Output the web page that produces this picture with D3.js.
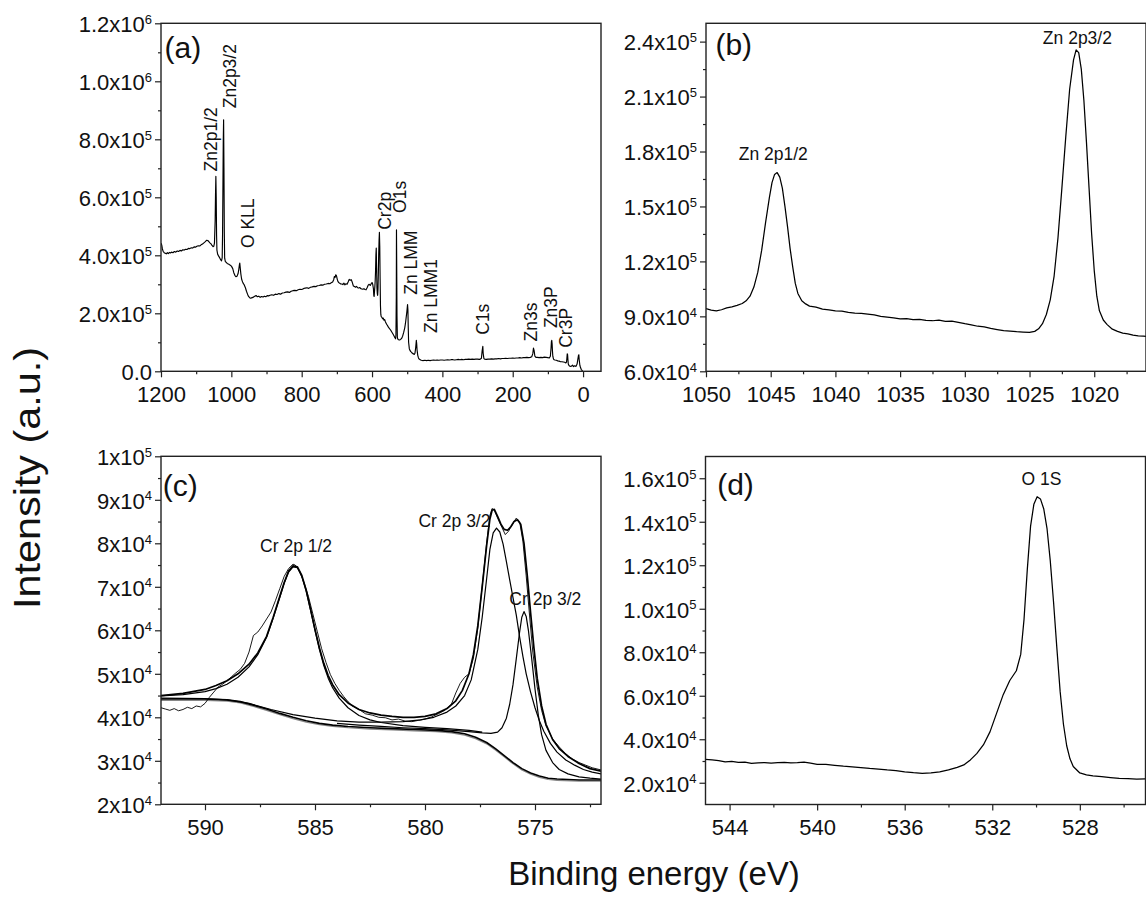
<!DOCTYPE html>
<html>
<head>
<meta charset="utf-8">
<script src="https://cdn.jsdelivr.net/npm/d3@7"></script>
<style>
  body { margin: 0; background: #fff; }
  svg { display: block; font-family: "Liberation Sans", Arial, sans-serif; }
</style>
</head>
<body>
<svg id="chart" width="1146" height="897"></svg>
<script>
// all intensities are in thousands of counts, energies in eV

// (a) survey spectrum
const survey = [[1200,442],[1198,436],[1196,422],[1194,414],[1191,409],[1188,407],[1185,405],[1182,409],[1179,406],[1176,410],[1173,408],[1170,411],[1166,409],[1162,413],[1158,411],[1154,415],[1150,413],[1146,417],[1142,415],[1138,419],[1134,418],[1130,421],[1126,420],[1122,424],[1118,423],[1114,426],[1110,425],[1106,429],[1102,428],[1098,431],[1094,433],[1090,432],[1086,436],[1082,439],[1078,443],[1074,447],[1070,452],[1067,451],[1064,447],[1061,443],[1058,440],[1055,434],[1052,430],[1050,431],[1048,442],[1046,520],[1045,610],[1044,672],[1043,600],[1042,470],[1041,418],[1039,404],[1036,397],[1033,391],[1030,384],[1028,381],[1026,392],[1025,470],[1024,620],[1023,790],[1022,867],[1021,700],[1020,480],[1019,390],[1017,378],[1014,375],[1011,371],[1008,370],[1005,367],[1002,365],[999,361],[996,354],[993,340],[990,331],[987,326],[984,328],[981,336],[979,350],[977,368],[976,373],[975,360],[973,336],[971,319],[969,311],[967,305],[965,301],[963,297],[960,288],[957,276],[954,266],[951,258],[948,254],[945,252],[941,254],[938,255],[935,258],[932,260],[929,261],[926,257],[922,259],[918,255],[914,258],[910,256],[906,259],[902,257],[898,261],[894,260],[890,262],[885,264],[880,262],[875,266],[870,265],[865,268],[860,266],[855,270],[850,271],[845,273],[840,274],[835,272],[830,276],[825,278],[820,279],[815,278],[810,281],[805,283],[800,282],[795,285],[790,287],[785,288],[780,286],[775,290],[770,291],[765,293],[760,292],[755,295],[750,296],[745,298],[740,297],[735,300],[730,301],[725,303],[720,302],[716,305],[712,308],[709,316],[707,327],[705,324],[703,333],[701,329],[699,318],[697,310],[695,306],[692,304],[689,301],[686,301],[683,299],[680,304],[677,298],[674,302],[671,300],[668,308],[665,317],[662,314],[659,316],[656,306],[653,294],[650,292],[647,290],[644,293],[641,288],[638,287],[635,289],[632,285],[629,284],[626,283],[623,285],[620,282],[617,281],[614,288],[611,297],[608,300],[605,296],[602,303],[600,306],[598,300],[596,284],[595,262],[594,258],[593,275],[592,292],[591,312],[590,345],[589,400],[588,425],[587,355],[586,288],[585,268],[584,262],[583,285],[582,340],[581,405],[580,452],[579,479],[578,430],[577,320],[576,226],[575,196],[574,189],[572,186],[570,181],[568,183],[566,176],[564,178],[562,171],[560,166],[558,161],[556,158],[554,153],[552,150],[549,145],[546,140],[543,134],[540,128],[537,121],[535,116],[533,112],[532,125],[531,260],[530.5,488],[530,400],[529,190],[528,118],[527,112],[525,109],[522,108],[519,110],[516,113],[513,121],[510,134],[507,150],[505,165],[503,185],[501,205],[499,230],[498,212],[497,150],[496,100],[494,78],[492,72],[490,68],[488,66],[486,63],[484,61],[482,60],[480,58],[478,62],[476,80],[474,107],[473,95],[472,74],[470,55],[468,46],[466,42],[463,40],[460,38],[455,37],[450,38],[445,37],[440,38],[435,37],[430,38],[425,39],[420,38],[415,39],[410,38],[405,39],[400,39],[395,38],[390,39],[385,40],[380,39],[375,40],[370,40],[365,39],[360,40],[355,41],[350,40],[345,41],[340,40],[335,41],[330,41],[325,42],[320,41],[315,42],[310,41],[305,42],[300,42],[295,41],[292,42],[289,45],[287,70],[285,86],[284,62],[282,44],[280,42],[275,41],[270,42],[265,42],[260,43],[255,42],[250,43],[245,43],[240,44],[235,43],[230,44],[225,44],[220,45],[215,44],[210,45],[205,45],[200,46],[195,45],[190,46],[185,46],[180,47],[175,46],[170,47],[165,47],[160,48],[155,47],[150,48],[146,50],[143,60],[141,80],[139,70],[137,52],[134,48],[130,48],[125,47],[120,48],[115,47],[110,49],[105,48],[100,47],[96,46],[93,52],[91,80],[90,102],[89,107],[88,95],[87,70],[86,52],[84,42],[82,40],[80,39],[76,38],[72,36],[68,35],[64,33],[60,33],[56,32],[52,31],[49,29],[47,32],[46,45],[45,60],[44,58],[43,40],[42,25],[40,20],[38,18],[34,17],[30,21],[27,16],[24,19],[20,17],[17,25],[15,40],[13,55],[12,57],[11,40],[9,20],[7,12],[5,6],[3,3],[1,1]];

// (b) Zn 2p region
const zn2p = [[1050,94.2],[1049.6,93.4],[1049.2,93.0],[1048.8,93.6],[1048.4,94.6],[1048,95.2],[1047.6,96.0],[1047.2,97.0],[1046.9,98.5],[1046.6,101],[1046.3,106],[1046,114],[1045.7,126],[1045.4,141],[1045.1,155],[1044.9,163],[1044.7,167.5],[1044.5,168.5],[1044.3,166],[1044.1,160],[1043.9,150],[1043.7,139],[1043.5,127],[1043.3,117],[1043.1,108],[1042.9,102.5],[1042.6,98.5],[1042.3,96.8],[1042,95.6],[1041.5,95.0],[1041,94.0],[1040.5,93.6],[1040,93.0],[1039.5,92.8],[1039,92.2],[1038.5,91.8],[1038,91.6],[1037.5,91.2],[1037,90.8],[1036.5,90.0],[1036,89.6],[1035.5,89.2],[1035,88.6],[1034.5,88.8],[1034,88.2],[1033.5,88.4],[1033,87.8],[1032.5,87.6],[1032,87.9],[1031.5,87.3],[1031,87.4],[1030.5,86.7],[1030,86.0],[1029.5,85.4],[1029,84.6],[1028.5,84.2],[1028,83.4],[1027.5,82.8],[1027,82.2],[1026.5,82.0],[1026,81.6],[1025.5,81.4],[1025,81.2],[1024.6,81.8],[1024.3,83.2],[1024,86.0],[1023.7,91],[1023.4,99],[1023.1,112],[1022.8,133],[1022.5,160],[1022.2,188],[1021.9,214],[1021.6,230],[1021.4,235.5],[1021.2,234],[1021,225],[1020.8,208],[1020.6,185],[1020.4,160],[1020.2,135],[1020,115],[1019.8,101],[1019.6,93],[1019.3,88],[1019,85.5],[1018.6,83],[1018.2,81.8],[1017.8,80.8],[1017.4,80.4],[1017,79.8],[1016.6,79.4],[1016.2,79.2],[1016,79.0]];

// (c) Cr 2p region: measured data, fitted envelope, components, background
const crRaw = [[592,42.2],[591.8,41.9],[591.6,41.6],[591.4,42.0],[591.2,41.5],[591,41.8],[590.8,42.3],[590.6,42.0],[590.4,42.6],[590.2,42.4],[590,43.2],[589.8,44.6],[589.6,45.8],[589.4,47.0],[589.2,47.6],[589,48.4],[588.8,49.3],[588.6,50.2],[588.4,51.0],[588.2,52.4],[588,55.0],[587.8,58.8],[587.6,59.6],[587.4,61.0],[587.2,62.6],[587,64.2],[586.8,66.8],[586.6,69.6],[586.4,72.4],[586.2,74.2],[586,75.2],[585.9,75.0],[585.7,73.6],[585.5,71.0],[585.3,67.8],[585.1,63.8],[584.9,59.8],[584.7,55.8],[584.5,52.6],[584.3,49.8],[584.1,47.8],[583.9,46.2],[583.7,44.8],[583.5,43.6],[583.3,42.6],[583,41.8],[582.7,40.8],[582.4,40.5],[582.1,40.0],[581.8,39.9],[581.5,39.4],[581.2,39.6],[580.9,39.1],[580.6,39.0],[580.3,39.3],[580,39.6],[579.7,40.1],[579.4,40.8],[579.1,41.6],[578.8,43.0],[578.6,45.6],[578.4,47.8],[578.2,49.2],[578,50.0],[577.8,53.6],[577.6,60.5],[577.4,70.2],[577.2,80.0],[577.05,86.4],[576.95,88.0],[576.85,87.6],[576.7,85.8],[576.5,83.6],[576.35,82.0],[576.2,82.8],[576,84.6],[575.85,85.8],[575.7,85.0],[575.55,80.5],[575.4,72.5],[575.25,63.5],[575.1,55.0],[574.9,47.0],[574.7,41.6],[574.5,38.0],[574.2,35.0],[573.9,33.2],[573.6,31.6],[573.3,30.4],[573,29.6],[572.7,29.0],[572.4,28.4],[572,27.9]];
const crEnvelope = [[592,45.0],[591,45.5],[590,46.4],[589.5,47.3],[589,48.4],[588.5,50.0],[588,52.2],[587.6,54.8],[587.2,58.6],[586.9,63.0],[586.6,67.8],[586.4,71.0],[586.2,73.6],[586,74.8],[585.8,74.6],[585.6,72.6],[585.4,69.2],[585.2,64.8],[585,60.2],[584.8,56.0],[584.6,52.4],[584.4,49.6],[584.2,47.5],[583.9,45.2],[583.5,43.3],[583,41.8],[582.5,41.0],[582,40.5],[581.5,40.2],[581,40.0],[580.5,40.0],[580,40.2],[579.5,40.8],[579,42.0],[578.6,43.8],[578.3,46.2],[578,50.0],[577.8,54.4],[577.6,61.0],[577.4,70.0],[577.2,79.4],[577.05,85.6],[576.95,87.6],[576.85,87.8],[576.7,86.2],[576.55,84.4],[576.4,83.2],[576.25,83.0],[576.1,83.8],[575.95,85.0],[575.8,85.4],[575.65,84.4],[575.5,80.0],[575.35,72.5],[575.2,64.0],[575.05,56.0],[574.9,49.0],[574.7,42.6],[574.5,38.4],[574.2,34.9],[573.9,32.8],[573.5,31.0],[573,29.4],[572.5,28.2],[572,27.6]];
const crPeak1 = [[592,44.9],[591,45.2],[590,45.9],[589.5,46.6],[589,47.6],[588.5,49.2],[588,51.6],[587.6,54.4],[587.2,58.4],[586.9,62.8],[586.6,67.6],[586.4,70.8],[586.2,73.4],[586,74.6],[585.8,74.4],[585.6,72.4],[585.4,69.0],[585.2,64.6],[585,60.0],[584.8,55.6],[584.6,51.9],[584.4,49.0],[584.2,46.8],[583.9,44.4],[583.5,42.2],[583,40.4],[582.5,39.4],[582,38.8],[581,38.1],[580,37.7],[579,37.4],[578,37.0],[577.4,36.6]];
const crPeak2 = [[592,44.4],[590,44.3],[589,44.0],[588,43.2],[587,41.8],[586,40.6],[585,39.8],[584,39.2],[583,38.9],[582,38.9],[581,39.0],[580.2,39.4],[579.6,40.0],[579,41.2],[578.6,42.6],[578.2,45.0],[577.9,48.6],[577.6,55.6],[577.4,63.0],[577.2,71.8],[577.05,78.6],[576.9,82.4],[576.75,83.5],[576.6,82.6],[576.45,79.8],[576.3,75.8],[576.15,71.6],[576,67.5],[575.85,63.5],[575.7,58.5],[575.55,54.0],[575.4,50.0],[575.2,45.8],[575,42.2],[574.8,39.2],[574.6,36.8],[574.3,34.0],[574,32.0],[573.6,30.2],[573.2,29.0],[572.8,28.0],[572.4,27.4],[572,27.0]];
const crPeak3 = [[584,38.6],[583,38.2],[582,37.9],[581,37.6],[580,37.4],[579,37.1],[578,36.7],[577.4,36.4],[577,36.3],[576.7,36.6],[576.5,37.6],[576.3,39.8],[576.15,43.0],[576,47.5],[575.85,53.5],[575.7,59.6],[575.6,63.0],[575.5,64.3],[575.4,63.2],[575.3,60.0],[575.15,53.5],[575,46.5],[574.85,40.5],[574.7,36.0],[574.5,32.4],[574.2,29.6],[573.9,28.0],[573.5,27.0],[573,26.3],[572.5,26.0],[572,25.8]];
const crBackground = [[592,44.2],[590,44.2],[589,44.0],[588.4,43.6],[587.8,42.8],[587.2,41.9],[586.6,40.9],[586,40.0],[585.4,39.2],[584.8,38.6],[584.2,38.2],[583.5,37.9],[582.5,37.6],[581.5,37.4],[580.5,37.2],[579.5,37.0],[578.8,36.7],[578.2,36.2],[577.7,35.4],[577.2,34.2],[576.8,32.8],[576.4,31.2],[576,29.6],[575.6,28.2],[575.2,27.2],[574.8,26.5],[574.4,26.0],[574,25.8],[573,25.6],[572,25.6]];
const crBackground2 = [[592,43.9],[590,43.9],[589,43.7],[588.4,43.3],[587.8,42.5],[587.2,41.6],[586.6,40.6],[586,39.7],[585.4,38.9],[584.8,38.3],[584.2,37.9],[583.5,37.6],[582.5,37.3],[581.5,37.1],[580.5,36.9],[579.5,36.7],[578.8,36.4],[578.2,35.9],[577.7,35.1],[577.2,33.9],[576.8,32.5],[576.4,30.9],[576,29.3],[575.6,27.9],[575.2,26.9],[574.8,26.2],[574.4,25.7],[574,25.5],[573,25.3],[572,25.3]];

// (d) O 1s region
const o1s = [[545.1,30.7],[544.8,30.5],[544.5,30.2],[544.2,29.6],[543.9,29.8],[543.6,29.4],[543.3,29.5],[543,28.9],[542.7,29.1],[542.4,29.3],[542.1,29.0],[541.8,29.2],[541.5,29.4],[541.2,29.1],[540.9,29.2],[540.6,29.5],[540.3,29.0],[540,28.5],[539.6,28.4],[539.2,28.0],[538.8,27.6],[538.4,27.3],[538,27.0],[537.6,26.6],[537.2,26.3],[536.8,25.9],[536.4,25.6],[536,25.0],[535.6,24.6],[535.2,24.3],[534.8,24.5],[534.4,25.0],[534,25.9],[533.6,27.1],[533.3,28.2],[533,30.5],[532.7,33.5],[532.4,37.5],[532.1,43.5],[531.8,52.0],[531.5,60.5],[531.2,67.0],[530.9,71.5],[530.7,79.0],[530.55,95],[530.4,118],[530.25,138],[530.1,148],[529.95,151.5],[529.8,150.5],[529.65,146],[529.5,137],[529.35,122],[529.2,103],[529.05,82],[528.9,62],[528.75,47],[528.6,37],[528.45,31],[528.3,27.5],[528,24.5],[527.7,23.6],[527.4,23.2],[527,22.8],[526.6,22.4],[526.2,22.0],[525.8,21.9],[525.4,21.7],[525,21.8]];

// axis ticks and labels
const aXTicks = [1200, 1000, 800, 600, 400, 200, 0];
const aXMinor = [1100, 900, 700, 500, 300, 100];
const aYTicks = [0, 2e5, 4e5, 6e5, 8e5, 1e6, 1.2e6];
const aYLabels = ["0.0", "2.0x10^5", "4.0x10^5", "6.0x10^5", "8.0x10^5", "1.0x10^6", "1.2x10^6"];
const aYMinor = [1e5, 3e5, 5e5, 7e5, 9e5, 1.1e6];

const bXTicks = [1050, 1045, 1040, 1035, 1030, 1025, 1020];
const bXMinor = [1047.5, 1042.5, 1037.5, 1032.5, 1027.5, 1022.5, 1017.5];
const bYTicks = [6e4, 9e4, 1.2e5, 1.5e5, 1.8e5, 2.1e5, 2.4e5];
const bYLabels = ["6.0x10^4", "9.0x10^4", "1.2x10^5", "1.5x10^5", "1.8x10^5", "2.1x10^5", "2.4x10^5"];
const bYMinor = [7.5e4, 1.05e5, 1.35e5, 1.65e5, 1.95e5, 2.25e5];

const cXTicks = [590, 585, 580, 575];
const cXMinor = [587.5, 582.5, 577.5, 572.5];
const cYTicks = [2e4, 3e4, 4e4, 5e4, 6e4, 7e4, 8e4, 9e4, 1e5];
const cYLabels = ["2x10^4", "3x10^4", "4x10^4", "5x10^4", "6x10^4", "7x10^4", "8x10^4", "9x10^4", "1x10^5"];
const cYMinor = [2.5e4, 3.5e4, 4.5e4, 5.5e4, 6.5e4, 7.5e4, 8.5e4, 9.5e4];

const dXTicks = [544, 540, 536, 532, 528];
const dXMinor = [542, 538, 534, 530, 526];
const dYTicks = [2e4, 4e4, 6e4, 8e4, 1e5, 1.2e5, 1.4e5, 1.6e5];
const dYLabels = ["2.0x10^4", "4.0x10^4", "6.0x10^4", "8.0x10^4", "1.0x10^5", "1.2x10^5", "1.4x10^5", "1.6x10^5"];
const dYMinor = [3e4, 5e4, 7e4, 9e4, 1.1e5, 1.3e5, 1.5e5];

// peak annotations: [text, energy, intensity in thousands]
const aNotes = [["Zn2p1/2", 1059, 689], ["Zn2p3/2", 1005, 907], ["O KLL", 952, 425], ["Cr2p", 563, 488], ["O1s", 521, 546], ["Zn LMM", 490, 264], ["Zn LMM1", 434, 132], ["C1s", 285, 126], ["Zn3s", 148, 103], ["Zn3P", 91, 149], ["Cr3P", 48, 81]];
const bNotes = [["Zn 2p1/2", 1044.8, 175.5], ["Zn 2p3/2", 1021.3, 238.6]];
const cNotes = [["Cr 2p 1/2", 585.86, 78.1], ["Cr 2p 3/2", 578.66, 83.8], ["Cr 2p 3/2", 574.53, 65.8]];
const dNotes = [["O 1S", 529.75, 157]];

const W = 440, H = 348;
const svg = d3.select("#chart");
const font = "'Liberation Sans', Arial, sans-serif";

const panels = [
  { key: "a", left: 161, top: 23.3, xDom: [1200, -51], yDom: [0, 1.2e6],
    xT: aXTicks, xM: aXMinor, yT: aYTicks, yL: aYLabels, yM: aYMinor,
    letter: "(a)", lx: 3.6, ly: 35,
    lines: [{ d: survey, w: 1.15 }], notes: aNotes, rotated: true },
  { key: "b", left: 706, top: 23.3, xDom: [1050, 1016], yDom: [6e4, 2.5e5],
    xT: bXTicks, xM: bXMinor, yT: bYTicks, yL: bYLabels, yM: bYMinor,
    letter: "(b)", lx: 9.4, ly: 32,
    lines: [{ d: zn2p, w: 1.25 }], notes: bNotes },
  { key: "c", left: 161, top: 456.3, xDom: [592, 572], yDom: [2e4, 1e5],
    xT: cXTicks, xM: cXMinor, yT: cYTicks, yL: cYLabels, yM: cYMinor,
    letter: "(c)", lx: 1.8, ly: 40,
    lines: [
      { d: crBackground2, w: 1.2, c: "#888" },
      { d: crBackground, w: 1.6 },
      { d: crPeak3, w: 1.2 },
      { d: crPeak2, w: 1.2 },
      { d: crPeak1, w: 1.2 },
      { d: crRaw, w: 0.9 },
      { d: crEnvelope, w: 1.7 }
    ], notes: cNotes },
  { key: "d", left: 705.5, top: 456.5, xDom: [545.1, 525], yDom: [1e4, 1.7e5],
    xT: dXTicks, xM: dXMinor, yT: dYTicks, yL: dYLabels, yM: dYMinor,
    letter: "(d)", lx: 11.7, ly: 38.5,
    lines: [{ d: o1s, w: 1.25 }], notes: dNotes }
];

const defs = svg.append("defs");
defs.append("clipPath").attr("id", "plotclip")
  .append("rect").attr("width", W).attr("height", H);

panels.forEach(p => {
  const g = svg.append("g").attr("transform", `translate(${p.left},${p.top})`);
  const x = d3.scaleLinear().domain(p.xDom).range([0, W]);
  const y = d3.scaleLinear().domain(p.yDom).range([H, 0]);

  // minor ticks
  g.append("g").attr("transform", `translate(0,${H})`)
    .call(d3.axisBottom(x).tickValues(p.xM).tickSize(3).tickFormat(""))
    .call(a => a.select(".domain").remove());
  g.append("g")
    .call(d3.axisLeft(y).tickValues(p.yM).tickSize(3).tickFormat(""))
    .call(a => a.select(".domain").remove());

  // major ticks with labels
  const xa = g.append("g").attr("transform", `translate(0,${H})`)
    .call(d3.axisBottom(x).tickValues(p.xT).tickSize(6).tickPadding(9).tickFormat(d3.format("d")));
  xa.select(".domain").remove();
  xa.attr("font-size", 22).attr("font-family", font);

  const ya = g.append("g")
    .call(d3.axisLeft(y).tickValues(p.yT).tickSize(6).tickPadding(3));
  ya.select(".domain").remove();
  ya.attr("font-size", 22).attr("font-family", font);
  ya.selectAll(".tick text").each(function(d, i) {
    const parts = p.yL[i].split("^");
    const t = d3.select(this).text(null).attr("dy", "0.38em");
    t.append("tspan").text(parts[0]);
    if (parts[1]) t.append("tspan").attr("dy", -8.5).attr("font-size", 13).text(parts[1]);
  });
  g.selectAll(".tick line").attr("stroke", "#222").attr("stroke-width", 1.2);
  g.selectAll(".tick text").attr("fill", "#111");

  // curves
  const plot = g.append("g").attr("clip-path", "url(#plotclip)");
  const line = d3.line().x(d => x(d[0])).y(d => y(d[1] * 1000));
  p.lines.forEach(l => {
    plot.append("path").datum(l.d)
      .attr("fill", "none")
      .attr("stroke", l.c || "#000")
      .attr("stroke-width", l.w)
      .attr("stroke-linejoin", "round")
      .attr("d", line);
  });

  // frame
  g.append("rect").attr("width", W).attr("height", H)
    .attr("fill", "none").attr("stroke", "#222").attr("stroke-width", 1.4);

  // panel letter
  g.append("text").attr("x", p.lx).attr("y", p.ly)
    .attr("font-size", 30).attr("font-family", font).attr("fill", "#111")
    .text(p.letter);

  // annotations
  p.notes.forEach(n => {
    if (p.rotated) {
      g.append("text")
        .attr("transform", `translate(${x(n[1])},${y(n[2] * 1000)}) rotate(-90)`)
        .attr("dy", "0.35em")
        .attr("font-size", 17.5).attr("font-family", font).attr("fill", "#111")
        .text(n[0]);
    } else {
      g.append("text")
        .attr("x", x(n[1])).attr("y", y(n[2] * 1000))
        .attr("text-anchor", "middle")
        .attr("font-size", 17.5).attr("font-family", font).attr("fill", "#111")
        .text(n[0]);
    }
  });
});

// shared axis titles
svg.append("text")
  .attr("transform", "translate(40,478) rotate(-90)")
  .attr("text-anchor", "middle")
  .attr("font-size", 36).attr("font-family", font).attr("fill", "#111")
  .attr("textLength", 262).attr("lengthAdjust", "spacingAndGlyphs")
  .text("Intensity (a.u.)");
svg.append("text")
  .attr("x", 654).attr("y", 885)
  .attr("text-anchor", "middle")
  .attr("font-size", 33).attr("font-family", font).attr("fill", "#111")
  .text("Binding energy (eV)");
</script>
</body>
</html>
